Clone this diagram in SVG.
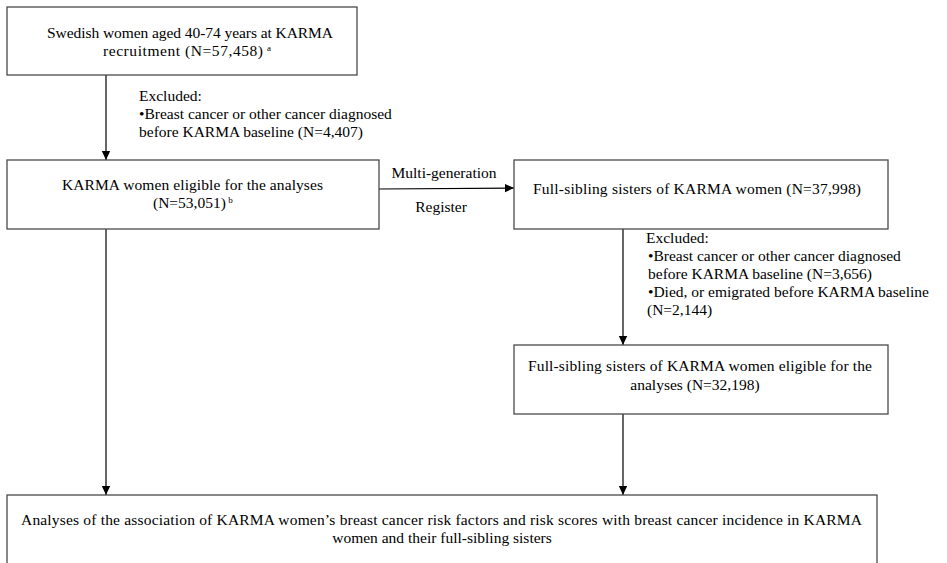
<svg xmlns="http://www.w3.org/2000/svg" width="947" height="563" viewBox="0 0 947 563">
<defs>
<marker id="ah" markerWidth="10" markerHeight="10" refX="9" refY="5" orient="auto" markerUnits="userSpaceOnUse">
<path d="M0,0.8 L9,5 L0,9.2 Z" fill="#000"/>
</marker>
<style>
.box{fill:#fff;stroke:#4a4a4a;stroke-width:1.3}
.t{font-family:"Liberation Serif","Times New Roman",serif;font-size:15.5px;fill:#000}
.s{font-family:"Liberation Serif","Times New Roman",serif;font-size:15.5px;fill:#000}
.c{text-anchor:middle}
.sup{font-size:9px}
.ln{stroke:#000;stroke-width:1.2;fill:none}
</style>
</defs>
<rect width="947" height="563" fill="#fff"/>
<g id="connectors">
<line class="ln" x1="106" y1="75" x2="106" y2="160" marker-end="url(#ah)"/>
<line class="ln" x1="379" y1="189" x2="514" y2="188" marker-end="url(#ah)"/>
<line class="ln" x1="623" y1="229" x2="623" y2="345" marker-end="url(#ah)"/>
<line class="ln" x1="106" y1="229" x2="106" y2="495" marker-end="url(#ah)"/>
<line class="ln" x1="623" y1="414" x2="623" y2="495" marker-end="url(#ah)"/>
<text class="t c" x="444" y="178">Multi-generation</text>
<text class="t c" x="441" y="212">Register</text>
</g>
<g id="excl1">
<text class="s" x="139" y="101">Excluded:</text>
<text class="s" x="139" y="119">•Breast cancer or other cancer diagnosed</text>
<text class="s" x="139" y="137">before KARMA  baseline (N=4,407)</text>
</g>
<g id="excl2">
<text class="s" x="646" y="243">Excluded:</text>
<text class="s" x="648" y="261">•Breast cancer or other cancer diagnosed</text>
<text class="s" x="648" y="279">before KARMA  baseline (N=3,656)</text>
<text class="s" x="648" y="297">•Died, or emigrated before KARMA  baseline</text>
<text class="s" x="647" y="315">(N=2,144)</text>
</g>
<g id="n1">
<rect class="box" x="7" y="7" width="350" height="68"/>
<text class="t" x="47" y="38" textLength="286" lengthAdjust="spacing">Swedish  women aged  40-74 years  at KARMA</text>
<text class="t" x="103" y="56" textLength="160" lengthAdjust="spacing">recruitment (N=57,458)</text><text class="t sup" x="267" y="51">a</text>
</g>
<g id="n2">
<rect class="box" x="7" y="160" width="372" height="69"/>
<text class="t" x="62" y="190" textLength="261" lengthAdjust="spacing">KARMA  women eligible for the analyses</text>
<text class="t" x="153" y="208">(N=53,051)<tspan class="sup" dy="-5"> b</tspan></text>
</g>
<g id="n3">
<rect class="box" x="514" y="160" width="374" height="69"/>
<text class="t" x="533" y="194" textLength="328" lengthAdjust="spacing">Full-sibling sisters of KARMA  women (N=37,998)</text>
</g>
<g id="n4">
<rect class="box" x="514" y="345" width="374" height="69"/>
<text class="t" x="528" y="371" textLength="344" lengthAdjust="spacing">Full-sibling sisters of KARMA  women eligible for the</text>
<text class="t c" x="695" y="390">analyses  (N=32,198)</text>
</g>
<g id="n5">
<rect class="box" x="7" y="495" width="870" height="90"/>
<text class="t" x="21" y="525" textLength="841" lengthAdjust="spacing">Analyses  of  the association of KARMA  women’s breast cancer risk factors and risk scores with breast cancer  incidence in KARMA</text>
<text class="t c" x="442" y="543">women and their full-sibling sisters</text>
</g>
</svg>
